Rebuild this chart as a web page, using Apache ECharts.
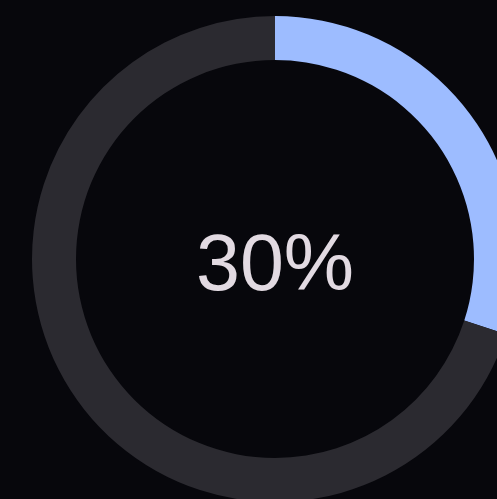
<!DOCTYPE html>
<html><head><meta charset="utf-8">
<script src="https://cdn.jsdelivr.net/npm/echarts@6/dist/echarts.min.js"></script>
<style>html,body{margin:0;padding:0;background:#07070c;}#c{width:497px;height:499px;}</style>
</head><body><div id="c"></div>
<script>
const categories = ['Done', 'Remaining'];
const values = [30, 70];
const labelText = '30%';
const chart = echarts.init(document.getElementById('c'));
chart.setOption({
  backgroundColor: '#07070c',
  animation: false,
  series: [{
    type: 'pie',
    center: [275, 259],
    radius: [199, 243],
    startAngle: 90,
    clockwise: true,
    silent: true,
    label: { show: false },
    labelLine: { show: false },
    data: categories.map((c, i) => ({
      name: c, value: values[i],
      itemStyle: { color: i === 0 ? '#9dbcff' : '#2b2a30' }
    }))
  }],
  graphic: [{
    type: 'text',
    x: 275, y: 268,
    style: {
      text: labelText,
      x: 0, y: 0,
      align: 'center', verticalAlign: 'middle',
      fontFamily: 'Liberation Sans, Arial, sans-serif',
      fontSize: 79,
      fill: '#e2dae2'
    }
  }]
});
</script></body></html>
